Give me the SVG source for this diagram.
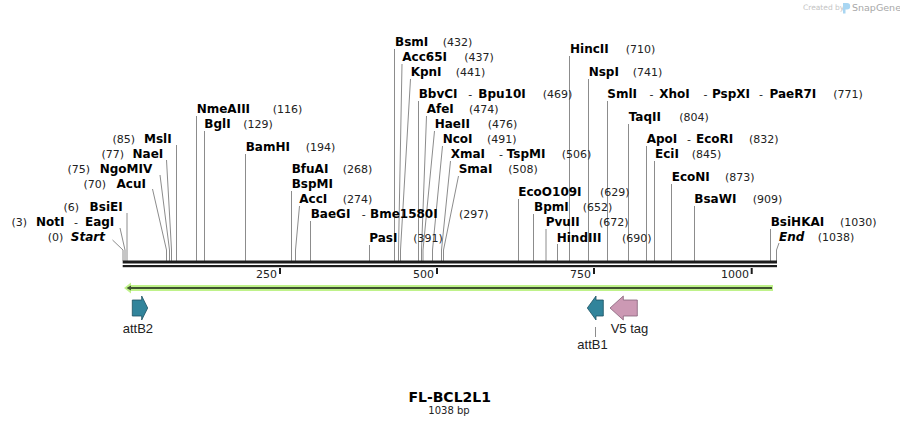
<svg xmlns="http://www.w3.org/2000/svg" width="900" height="427" viewBox="0 0 900 427">
<style>
.n{font-family:"DejaVu Sans",Verdana,sans-serif;font-size:12px;font-weight:bold;fill:#000}
.ni{font-family:"DejaVu Sans",Verdana,sans-serif;font-size:12px;font-weight:bold;font-style:italic;fill:#000}
.c{font-family:"DejaVu Sans",Verdana,sans-serif;font-size:11px;fill:#222}
.e{text-anchor:end}
.ld{fill:none;stroke:#8c8c8c;stroke-width:1}
.tk{font-family:"DejaVu Sans",Verdana,sans-serif;font-size:11px;fill:#222;text-anchor:end}
.fl{font-family:"Liberation Sans",Arial,sans-serif;font-size:13px;fill:#222}
.teal{fill:#31849b;stroke:#1d5262;stroke-width:0.8}
.pink{fill:#cc99b4;stroke:#86627a;stroke-width:0.8}
</style>
<rect width="900" height="427" fill="#fff"/>

<g id="logo">
<text x="803" y="10" style="font-family:'DejaVu Sans',sans-serif;font-size:7.5px;fill:#c4c4c4">Created by</text>
<path d="M843,3 h4 a3.2,3.2 0 0 1 0,6.4 h-1.5 v4 h-2.5 z" fill="#a9d6f2"/>
<text x="852" y="11" style="font-family:'DejaVu Sans',sans-serif;font-size:9.5px;fill:#a8a8a8">SnapGene</text>
</g>

<g id="connectors">
<path class="ld" d="M112.5,240 L123,250 V261"/>
<path class="ld" d="M120,228 L125,250 V261"/>
<path class="ld" d="M127,213 V261"/>
<path class="ld" d="M152.5,189 L166.5,250 V261"/>
<path class="ld" d="M160,175 L169.5,250 V261"/>
<path class="ld" d="M166.5,160 L171.5,250 V261"/>
<path class="ld" d="M176.5,145 V261"/>
<path class="ld" d="M196.5,116 V261"/>
<path class="ld" d="M204.5,131 V261"/>
<path class="ld" d="M245.5,154 V261"/>
<path class="ld" d="M291.5,191 V261"/>
<path class="ld" d="M299.5,206 L295.5,250 V261"/>
<path class="ld" d="M310.5,221 V261"/>
<path class="ld" d="M369.5,245 V261"/>
<path class="ld" d="M394.5,49 V261"/>
<path class="ld" d="M402,64 L398.5,250 V261"/>
<path class="ld" d="M410.5,79 L400.5,250 V261"/>
<path class="ld" d="M418.5,101 V261"/>
<path class="ld" d="M426.5,116 L421.5,250 V261"/>
<path class="ld" d="M434.5,131 L423,250 V261"/>
<path class="ld" d="M442.5,146 L432.5,250 V261"/>
<path class="ld" d="M450.5,161 L441.5,250 V261"/>
<path class="ld" d="M458.5,176 L443.5,250 V261"/>
<path class="ld" d="M518.5,199 V261"/>
<path class="ld" d="M533.5,214 V261"/>
<path class="ld" d="M546,229 V261"/>
<path class="ld" d="M557.5,244 V261"/>
<path class="ld" d="M569.5,56 V261"/>
<path class="ld" d="M588.5,79 V261"/>
<path class="ld" d="M607.5,101 V261"/>
<path class="ld" d="M628.5,124 V261"/>
<path class="ld" d="M646.5,146 V261"/>
<path class="ld" d="M654.5,161 V261"/>
<path class="ld" d="M671.5,184 V261"/>
<path class="ld" d="M694.5,206 V261"/>
<path class="ld" d="M770.5,229 V261"/>
<path class="ld" d="M779,243 L776.5,250 V261"/>
<path class="ld" d="M595.5,327 V337"/>
</g>

<g id="backbone">
<rect x="122.7" y="260.5" width="654.3" height="3" fill="#1c1c1c"/>
<rect x="122.7" y="265" width="654.3" height="2.2" fill="#1c1c1c"/>
<rect x="279" y="268" width="2" height="6" fill="#1c1c1c"/>
<rect x="436" y="268" width="2" height="6" fill="#1c1c1c"/>
<rect x="593" y="268" width="2" height="6" fill="#1c1c1c"/>
<rect x="750.7" y="268" width="2" height="6" fill="#1c1c1c"/>
<text class="tk" x="277" y="277.5">250</text>
<text class="tk" x="434" y="277.5">500</text>
<text class="tk" x="591" y="277.5">750</text>
<text class="tk" x="749" y="277.5">1000</text>
</g>

<g id="site-start"><text class="c e" x="63.3" y="241">(0)</text><text class="ni e" x="105" y="241">Start</text></g>
<g id="site-NotI"><text class="c e" x="27" y="226">(3)</text><text class="n" x="36" y="226">NotI</text><text class="c" x="74" y="226">-</text><text class="n e" x="114.3" y="226">EagI</text></g>
<g id="site-BsiEI"><text class="c e" x="79" y="211">(6)</text><text class="n e" x="122.7" y="211">BsiEI</text></g>
<g id="site-AcuI"><text class="c e" x="106" y="188">(70)</text><text class="n e" x="146" y="188">AcuI</text></g>
<g id="site-NgoMIV"><text class="c e" x="90" y="173">(75)</text><text class="n e" x="152.3" y="173">NgoMIV</text></g>
<g id="site-NaeI"><text class="c e" x="124" y="158">(77)</text><text class="n e" x="163.3" y="158">NaeI</text></g>
<g id="site-MslI"><text class="c e" x="135" y="143">(85)</text><text class="n e" x="171.7" y="143">MslI</text></g>
<g id="site-NmeAIII"><text class="n" x="196.7" y="113">NmeAIII</text><text class="c" x="272.7" y="113">(116)</text></g>
<g id="site-BglI"><text class="n" x="204.3" y="128">BglI</text><text class="c" x="243.3" y="128">(129)</text></g>
<g id="site-BamHI"><text class="n" x="245.7" y="151">BamHI</text><text class="c" x="305.7" y="151">(194)</text></g>
<g id="site-BfuAI"><text class="n" x="291.7" y="173">BfuAI</text><text class="c" x="342.7" y="173">(268)</text><text class="n" x="291.7" y="188">BspMI</text></g>
<g id="site-AccI"><text class="n" x="299.3" y="203">AccI</text><text class="c" x="342.7" y="203">(274)</text></g>
<g id="site-BaeGI"><text class="n" x="310.7" y="218">BaeGI</text><text class="c" x="361.7" y="218">-</text><text class="n" x="370" y="218">Bme1580I</text><text class="c" x="459" y="218">(297)</text></g>
<g id="site-PasI"><text class="n" x="369.3" y="241.5">PasI</text><text class="c" x="413.3" y="241.5">(391)</text></g>
<g id="site-BsmI"><text class="n" x="395" y="46">BsmI</text><text class="c" x="442.7" y="46">(432)</text></g>
<g id="site-Acc65I"><text class="n" x="402.3" y="61">Acc65I</text><text class="c" x="464.3" y="61">(437)</text></g>
<g id="site-KpnI"><text class="n" x="410.7" y="76">KpnI</text><text class="c" x="455.7" y="76">(441)</text></g>
<g id="site-BbvCI"><text class="n" x="418.7" y="98">BbvCI</text><text class="c" x="468.3" y="98">-</text><text class="n" x="478.3" y="98">Bpu10I</text><text class="c" x="542.7" y="98">(469)</text></g>
<g id="site-AfeI"><text class="n" x="426.7" y="113">AfeI</text><text class="c" x="469" y="113">(474)</text></g>
<g id="site-HaeII"><text class="n" x="434.7" y="128">HaeII</text><text class="c" x="487.7" y="128">(476)</text></g>
<g id="site-NcoI"><text class="n" x="442.7" y="143">NcoI</text><text class="c" x="487" y="143">(491)</text></g>
<g id="site-XmaI"><text class="n" x="450.7" y="158">XmaI</text><text class="c" x="499" y="158">-</text><text class="n" x="506.7" y="158">TspMI</text><text class="c" x="561.7" y="158">(506)</text></g>
<g id="site-SmaI"><text class="n" x="458.7" y="173">SmaI</text><text class="c" x="508.3" y="173">(508)</text></g>
<g id="site-EcoO109I"><text class="n" x="518.3" y="196">EcoO109I</text><text class="c" x="600" y="196">(629)</text></g>
<g id="site-BpmI"><text class="n" x="534" y="211">BpmI</text><text class="c" x="582.7" y="211">(652)</text></g>
<g id="site-PvuII"><text class="n" x="545.7" y="226">PvuII</text><text class="c" x="599" y="226">(672)</text></g>
<g id="site-HindIII"><text class="n" x="556.7" y="241.5">HindIII</text><text class="c" x="622" y="241.5">(690)</text></g>
<g id="site-HincII"><text class="n" x="570" y="53">HincII</text><text class="c" x="625.7" y="53">(710)</text></g>
<g id="site-NspI"><text class="n" x="588.7" y="76">NspI</text><text class="c" x="632.7" y="76">(741)</text></g>
<g id="site-SmlI"><text class="n" x="607.3" y="98">SmlI</text><text class="c" x="649.5" y="98">-</text><text class="n" x="659.3" y="98">XhoI</text><text class="c" x="703.5" y="98">-</text><text class="n" x="712" y="98">PspXI</text><text class="c" x="759" y="98">-</text><text class="n" x="769.5" y="98">PaeR7I</text><text class="c" x="833.3" y="98">(771)</text></g>
<g id="site-TaqII"><text class="n" x="628.7" y="121">TaqII</text><text class="c" x="679.3" y="121">(804)</text></g>
<g id="site-ApoI"><text class="n" x="646.7" y="143">ApoI</text><text class="c" x="687" y="143">-</text><text class="n" x="696" y="143">EcoRI</text><text class="c" x="749" y="143">(832)</text></g>
<g id="site-EciI"><text class="n" x="655" y="158">EciI</text><text class="c" x="691.7" y="158">(845)</text></g>
<g id="site-EcoNI"><text class="n" x="671.7" y="181">EcoNI</text><text class="c" x="725" y="181">(873)</text></g>
<g id="site-BsaWI"><text class="n" x="694.3" y="203">BsaWI</text><text class="c" x="752.7" y="203">(909)</text></g>
<g id="site-BsiHKAI"><text class="n" x="770.7" y="226">BsiHKAI</text><text class="c" x="840" y="226">(1030)</text></g>
<g id="site-end"><text class="ni" x="779" y="241">End</text><text class="c" x="817.7" y="241">(1038)</text></g>

<g id="feature-FL-BCL2L1">
<polygon points="124,288 131,282.5 131,285 773,285 773,291 131,291 131,293.5" fill="#bff28a"/>
<line x1="130" y1="288" x2="772" y2="288" stroke="#3f5230" stroke-width="2"/>
<polygon points="126.5,288 131,285.5 131,290.5" fill="#3f5230"/>
</g>
<g id="feature-attB2">
<polygon class="teal" points="132.3,300 141.7,300 141.7,296 147.7,308 141.7,320 141.7,316 132.3,316"/>
<text class="fl" x="122.7" y="333.3">attB2</text>
</g>
<g id="feature-attB1">
<polygon class="teal" points="587.3,308 596,296 596,300 603.3,300 603.3,316 596,316 596,320"/>
<text class="fl" x="577.3" y="349.3">attB1</text>
</g>
<g id="feature-V5tag">
<polygon class="pink" points="610,308 623.3,296 623.3,300 637.3,300 637.3,316 623.3,316 623.3,320"/>
<text class="fl" x="610.7" y="333.3">V5 tag</text>
</g>

<g id="title">
<text x="449.7" y="401.7" text-anchor="middle" style="font-family:'DejaVu Sans',Verdana,sans-serif;font-size:14px;font-weight:bold;fill:#000">FL-BCL2L1</text>
<text x="449" y="414.3" text-anchor="middle" style="font-family:'DejaVu Sans',Verdana,sans-serif;font-size:10px;fill:#222">1038 bp</text>
</g>
</svg>
